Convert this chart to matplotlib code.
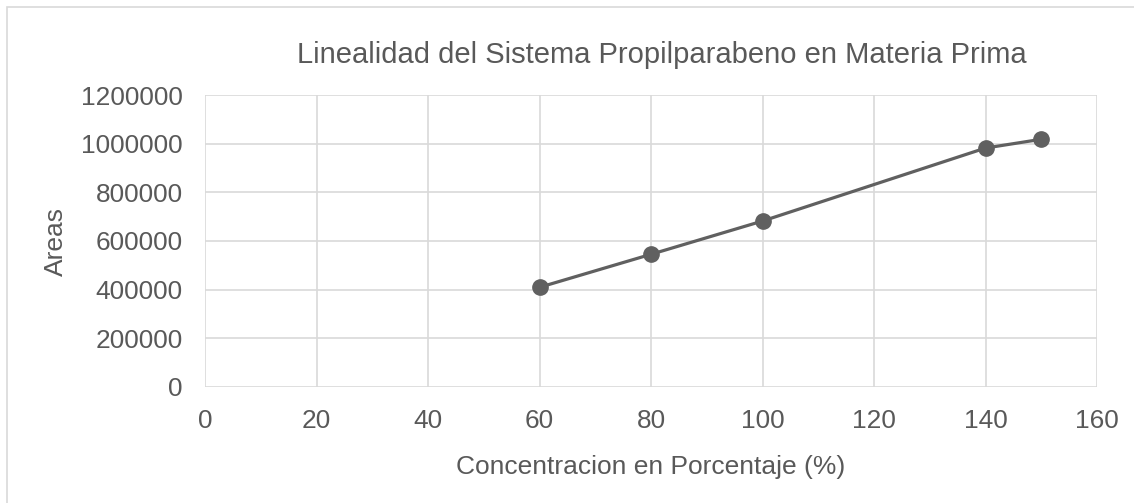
import matplotlib
matplotlib.use('Agg')
import matplotlib.pyplot as plt
import matplotlib.patches as patches

# Data
concentracion = [60, 80, 100, 140, 150]
areas = [409700, 545300, 682000, 982000, 1018000]
x_ticks = [0, 20, 40, 60, 80, 100, 120, 140, 160]
y_ticks = [0, 200000, 400000, 600000, 800000, 1000000, 1200000]

TEXT = '#595959'
GRID = '#d9d9d9'

plt.rcParams['font.family'] = ['Liberation Sans', 'DejaVu Sans']

fig = plt.figure(figsize=(11.34, 5.03), dpi=100)
fig.patch.set_facecolor('white')

# outer chart frame
fig.patches.append(patches.Rectangle((7 / 1134, -0.01), 1.0, (503 - 7) / 503 + 0.01,
                                     transform=fig.transFigure, fill=False,
                                     edgecolor=GRID, linewidth=1.2))

ax = fig.add_axes([205 / 1134, (503 - 387) / 503, (1097 - 205) / 1134, (387 - 95) / 503])

ax.plot(concentracion, areas, color='#606060', linewidth=2.3, marker='o',
        markersize=11, markerfacecolor='#606060', markeredgecolor='#606060',
        solid_capstyle='round', zorder=3)

ax.set_xlim(0, 160)
ax.set_ylim(0, 1200000)
ax.set_xticks(x_ticks)
ax.set_yticks(y_ticks)
ax.set_xticklabels([str(t) for t in x_ticks])
ax.set_yticklabels([str(t) for t in y_ticks])

ax.grid(True, color=GRID, linewidth=1.2)
ax.set_axisbelow(True)
for s in ax.spines.values():
    s.set_visible(False)
ax.tick_params(length=0, labelsize=18.9, colors=TEXT)
ax.tick_params(axis='y', pad=16)
ax.tick_params(axis='x', pad=16)

# title and axis labels placed in figure pixels to follow the reference
fig.text(662 / 1134, 1 - 55 / 503, 'Linealidad del Sistema Propilparabeno en Materia Prima',
         fontsize=21, color=TEXT, ha='center', va='center')
fig.text(651 / 1134, 1 - 467 / 503, 'Concentracion en Porcentaje (%)',
         fontsize=19, color=TEXT, ha='center', va='center')
fig.text(56 / 1134, 1 - 241 / 503, 'Areas', fontsize=19, color=TEXT,
         ha='center', va='center', rotation=90)

fig.savefig('out.png', dpi=100, facecolor='white')
